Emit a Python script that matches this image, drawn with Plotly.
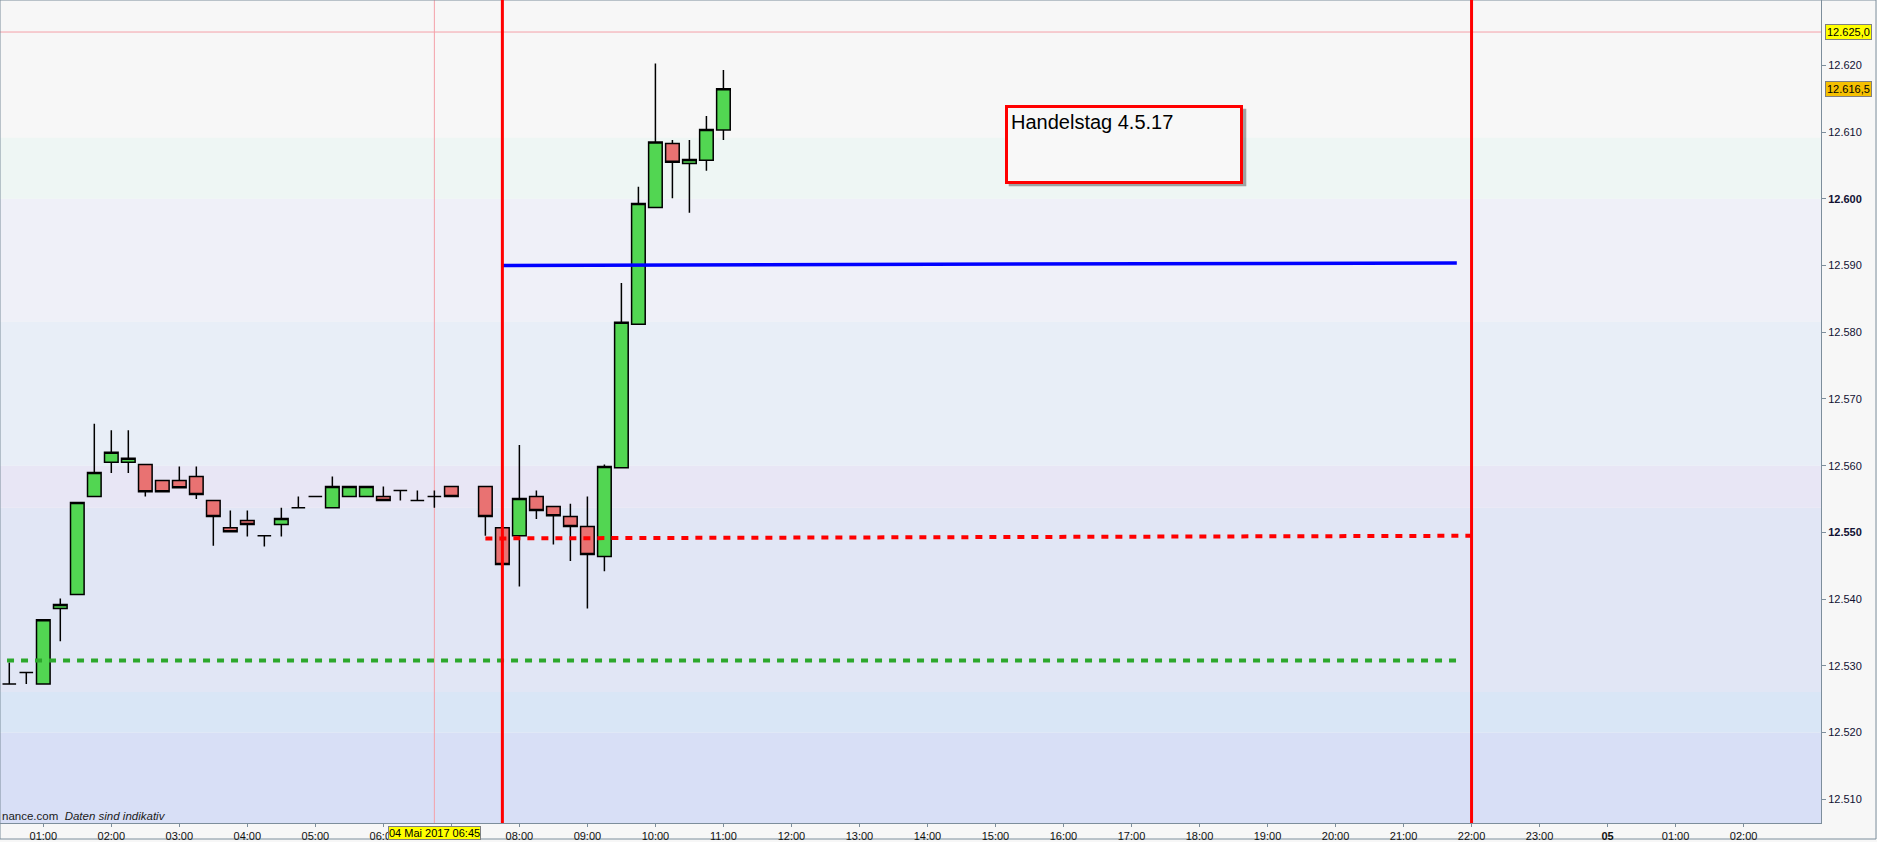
import plotly.graph_objects as go

# 15-minute DAX candles, 4 May 2017 (index points)
times = ["00:30", "00:45", "01:00", "01:15", "01:30", "01:45", "02:00", "02:15", "02:30", "02:45",
         "03:00", "03:15", "03:30", "03:45", "04:00", "04:15", "04:30", "04:45", "05:00", "05:15",
         "05:30", "05:45", "06:00", "06:15", "06:30", "06:45", "07:00", "07:30", "07:45", "08:00",
         "08:15", "08:30", "08:45", "09:00", "09:15", "09:30", "09:45", "10:00", "10:15", "10:30",
         "10:45", "11:00"]
opens = [12527.3, 12529.0, 12527.3, 12538.6, 12540.7, 12555.4, 12560.5, 12560.5, 12560.2, 12557.8,
         12557.8, 12558.4, 12554.8, 12550.7, 12551.8, 12549.5, 12551.2, 12553.7, 12555.4, 12553.7,
         12555.4, 12555.4, 12555.4, 12556.3, 12554.8, 12555.4, 12556.9, 12556.9, 12550.7, 12549.5,
         12555.4, 12553.9, 12552.4, 12550.9, 12546.4, 12559.7, 12581.2, 12598.7, 12608.3, 12605.3,
         12605.8, 12610.3]
highs = [12530.5, 12529.0, 12536.9, 12540.1, 12554.5, 12566.3, 12565.3, 12565.3, 12560.2, 12557.8,
         12559.9, 12559.9, 12554.8, 12553.3, 12553.3, 12549.5, 12553.7, 12555.4, 12555.4, 12558.4,
         12556.9, 12556.9, 12556.9, 12556.3, 12556.3, 12556.3, 12556.9, 12556.9, 12550.7, 12563.1,
         12556.3, 12554.0, 12554.3, 12555.4, 12560.2, 12587.4, 12601.8, 12620.3, 12608.8, 12608.8,
         12612.4, 12619.3]
lows = [12527.3, 12527.3, 12527.3, 12533.7, 12540.7, 12555.4, 12558.9, 12558.9, 12555.4, 12556.1,
        12556.7, 12555.0, 12548.0, 12550.1, 12549.4, 12547.9, 12549.4, 12553.7, 12555.4, 12553.7,
        12555.4, 12555.4, 12554.8, 12554.8, 12554.8, 12553.7, 12555.4, 12549.5, 12545.2, 12541.9,
        12552.0, 12548.2, 12545.7, 12538.6, 12544.2, 12559.7, 12581.2, 12598.7, 12600.1, 12597.9,
        12604.2, 12608.8]
closes = [12527.3, 12529.0, 12536.9, 12539.2, 12554.5, 12559.0, 12562.0, 12561.1, 12556.1, 12556.1,
          12556.7, 12555.7, 12552.4, 12550.1, 12551.2, 12549.5, 12552.1, 12553.7, 12555.4, 12556.9,
          12556.9, 12556.9, 12554.8, 12556.3, 12554.8, 12555.4, 12555.4, 12552.4, 12545.2, 12555.1,
          12553.3, 12552.5, 12550.9, 12546.7, 12559.9, 12581.5, 12599.3, 12608.5, 12605.5, 12605.9,
          12610.4, 12616.5]

# drawn levels
green_level_x = ["2017-05-04 00:28", "2017-05-04 21:47"]
green_level_y = [12530.8, 12530.8]
red_level_x = ["2017-05-04 07:30", "2017-05-04 22:00"]
red_level_y = [12549.1, 12549.5]
blue_level_x = ["2017-05-04 07:45", "2017-05-04 21:47"]
blue_level_y = [12590.0, 12590.4]
session_lines = ["2017-05-04 07:45", "2017-05-04 22:00"]
crosshair_time = "2017-05-04 06:45"
crosshair_price = 12625.0
last_price = 12616.5

# background zones
band_edges = [12506.4, 12520.0, 12526.1, 12553.7, 12560.0, 12581.6, 12600.0, 12609.2, 12629.8]
band_colors = ["#d8dff6", "#d9e6f6", "#e1e6f5", "#e8e6f5", "#e8eef7", "#eff0f8", "#eef6f4", "#f7f7f7"]

# axis ticks
y_ticks = list(range(12510, 12621, 10))
x_hours = ["2017-05-04 %02d:00" % h for h in range(1, 24)] + ["2017-05-05 %02d:00" % h for h in range(0, 3)]


def de_num(v, decimals=0):
    s = f"{v:,.{decimals}f}"
    return s.replace(",", "X").replace(".", ",").replace("X", ".")


y_text = [("<b>%s</b>" % de_num(v)) if v % 50 == 0 else de_num(v) for v in y_ticks]
x_text = ["<b>05</b>" if t.endswith("05 00:00") else t[-5:] for t in x_hours]

x = ["2017-05-04 " + t for t in times]

FONT = "Liberation Sans, Arial, sans-serif"
W, H = 1877, 842
ML, MR, MT, MB = 0, 56, 0, 19
PW, PH = W - ML - MR, H - MT - MB

fig = go.Figure()

fig.add_trace(go.Scatter(x=green_level_x, y=green_level_y, mode="lines",
                         line=dict(color="#2ca82c", width=4, dash="7px,7px"), hoverinfo="skip"))
fig.add_trace(go.Scatter(x=red_level_x, y=red_level_y, mode="lines",
                         line=dict(color="#ff0000", width=4, dash="7px,7px"), hoverinfo="skip"))

fig.add_trace(go.Candlestick(
    x=x, open=opens, high=highs, low=lows, close=closes,
    whiskerwidth=0,
    increasing=dict(fillcolor="#52d652", line=dict(color="#000000", width=1.5)),
    decreasing=dict(fillcolor="#e97272", line=dict(color="#000000", width=1.5)),
))

fig.add_trace(go.Scatter(x=blue_level_x, y=blue_level_y, mode="lines",
                         line=dict(color="#0000ff", width=3.5), hoverinfo="skip"))

shapes = []
for i, c in enumerate(band_colors):
    shapes.append(dict(type="rect", xref="paper", yref="y", x0=0, x1=1,
                       y0=band_edges[i], y1=band_edges[i + 1],
                       fillcolor=c, line=dict(width=0), layer="below"))

# crosshair
shapes.append(dict(type="line", xref="x", yref="paper", x0=crosshair_time, x1=crosshair_time,
                   y0=0, y1=1, line=dict(color="#f4a0a8", width=1), layer="below"))
shapes.append(dict(type="line", xref="paper", yref="y", x0=0, x1=1,
                   y0=crosshair_price, y1=crosshair_price, line=dict(color="#f4a0a8", width=1), layer="below"))

for t in session_lines:
    shapes.append(dict(type="line", xref="x", yref="paper", x0=t, x1=t, y0=0, y1=1,
                       line=dict(color="#ff0000", width=3)))

# shadow of the note box
bx0, bx1, by0, by1 = 1004.7, 1242.3, 104.7, 182.3
shapes.append(dict(type="rect", xref="paper", yref="paper",
                   x0=(bx0 + 4) / PW, x1=(bx1 + 4) / PW,
                   y0=1 - (by1 + 4) / PH, y1=1 - (by0 + 4) / PH,
                   fillcolor="rgba(60,60,60,0.45)", line=dict(width=0)))

# outer frame
shapes.append(dict(type="rect", xref="paper", yref="paper", x0=0, x1=(W - 1) / PW,
                   y0=-(H - 3 - PH) / PH, y1=1, line=dict(color="#7d8e9c", width=1), layer="below"))

annotations = [
    dict(xref="paper", yref="paper", x=bx0 / PW, y=1 - by0 / PH, xanchor="left", yanchor="top",
         text="Handelstag 4.5.17", showarrow=False, align="left", valign="top",
         width=226, height=67, bgcolor="#f8f8f8", bordercolor="#ff0000", borderwidth=3, borderpad=3,
         font=dict(family=FONT, size=20, color="#000000")),
    dict(xref="paper", yref="y", x=1 + 4 / PW, y=crosshair_price, xanchor="left", yanchor="middle",
         text=de_num(crosshair_price, 1), showarrow=False, bgcolor="#ffff00",
         bordercolor="#808080", borderwidth=1, borderpad=1,
         font=dict(family=FONT, size=11, color="#000000")),
    dict(xref="paper", yref="y", x=1 + 4 / PW, y=last_price, xanchor="left", yanchor="middle",
         text=de_num(last_price, 1), showarrow=False, bgcolor="#f5c000",
         bordercolor="#808080", borderwidth=1, borderpad=1,
         font=dict(family=FONT, size=11, color="#000000")),
    dict(xref="x", yref="paper", x=crosshair_time, y=0, xanchor="center", yanchor="top", yshift=-3,
         text="04 Mai 2017 06:45", showarrow=False, bgcolor="#ffff00",
         bordercolor="#808080", borderwidth=1, borderpad=0,
         font=dict(family=FONT, size=11, color="#000000")),
    dict(xref="paper", yref="paper", x=0, y=7 / PH, xanchor="left", yanchor="middle",
         text="nance.com  <i>Daten sind indikativ</i>", showarrow=False,
         font=dict(family=FONT, size=11.5, color="#1a1a1a")),
]

fig.update_layout(
    width=W, height=H,
    margin=dict(l=ML, r=MR, t=MT, b=MB),
    paper_bgcolor="#f7f7f7",
    plot_bgcolor="#f7f7f7",
    showlegend=False,
    boxgap=0.2,
    boxgroupgap=0,
    font=dict(family=FONT, size=11, color="#1a1a2e"),
    shapes=shapes,
    annotations=annotations,
    xaxis=dict(
        type="date",
        range=["2017-05-04 00:21:48", "2017-05-05 03:08:17"],
        rangeslider=dict(visible=False),
        tickvals=x_hours, ticktext=x_text,
        ticks="outside", ticklen=3, tickcolor="#7d8e9c",
        showgrid=False, zeroline=False,
        showline=True, linecolor="#7d8e9c", linewidth=1,
        tickfont=dict(family=FONT, size=11, color="#111111"),
    ),
    yaxis=dict(
        side="right",
        range=[12506.45, 12629.8],
        tickvals=y_ticks, ticktext=y_text,
        ticks="outside", ticklen=4, tickcolor="#7d8e9c",
        showgrid=False, zeroline=False,
        showline=True, linecolor="#7d8e9c", linewidth=1,
        tickfont=dict(family=FONT, size=11, color="#111133"),
    ),
)

# the page's default body margin would shift the chart by 8px
fig.write_html("out.html", config={"displayModeBar": False},
               post_script="document.body.style.margin='0';document.body.style.overflow='hidden';")
